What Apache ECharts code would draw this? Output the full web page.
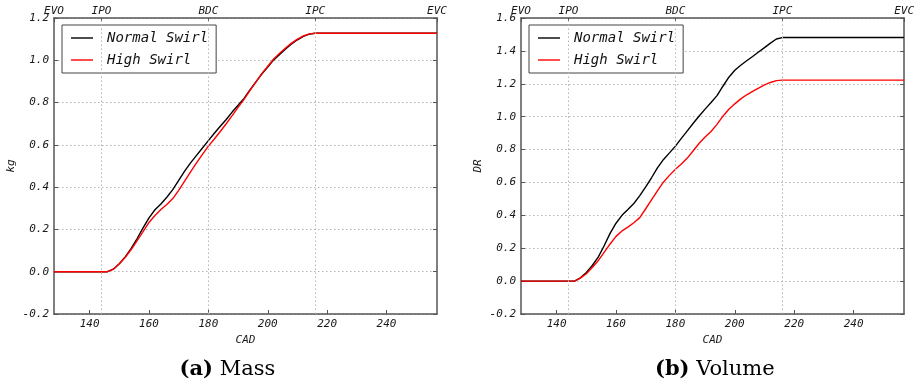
<!DOCTYPE html>
<html>
<head>
<meta charset="utf-8">
<script src="https://cdn.jsdelivr.net/npm/echarts@6/dist/echarts.min.js"></script>
<style>
html,body{margin:0;padding:0;background:#fff;}
#chart{width:917px;height:389px;}
</style>
</head>
<body>
<div id="chart"></div>
<script>
// ---- data ----
const cad = [128,146,148,150,152,154,156,158,160,162,164,166,168,170,172,174,176,178,180,182,184,186,188,190,192,194,196,198,200,202,204,206,208,210,212,214,216,257];
const massNormal = [0,0,0.012,0.038,0.070,0.110,0.157,0.207,0.255,0.293,0.320,0.352,0.388,0.432,0.476,0.515,0.550,0.585,0.620,0.655,0.688,0.720,0.755,0.787,0.820,0.860,0.898,0.935,0.968,1.002,1.028,1.053,1.077,1.097,1.113,1.124,1.128,1.128];
const massHigh   = [0,0,0.012,0.038,0.068,0.105,0.147,0.190,0.233,0.266,0.294,0.318,0.346,0.385,0.428,0.472,0.515,0.555,0.594,0.628,0.663,0.700,0.738,0.777,0.815,0.857,0.897,0.937,0.972,1.006,1.033,1.058,1.081,1.100,1.115,1.125,1.128,1.128];
const drNormal   = [0,0,0.020,0.053,0.095,0.146,0.215,0.290,0.352,0.400,0.435,0.472,0.520,0.573,0.630,0.690,0.740,0.780,0.821,0.868,0.914,0.960,1.004,1.046,1.086,1.128,1.185,1.240,1.282,1.313,1.340,1.366,1.393,1.420,1.447,1.472,1.481,1.481];
const drHigh     = [0,0,0.018,0.045,0.083,0.124,0.175,0.226,0.272,0.305,0.328,0.355,0.386,0.440,0.495,0.550,0.603,0.643,0.680,0.712,0.748,0.793,0.838,0.876,0.910,0.953,1.003,1.045,1.078,1.108,1.133,1.154,1.173,1.193,1.208,1.219,1.222,1.222];
const bottomTicks = [140,160,180,200,220,240];
const topTicks = [128,144,180,216,257];
const topLabels = ['EVO','IPO','BDC','IPC','EVC'];
const seriesNames = ['Normal Swirl','High Swirl'];
const yLabels = ['kg','DR'];
const captions = [['(a)','Mass'],['(b)','Volume']];

const pairs = (ys) => cad.map((x,i)=>[x, ys[i]]);
const mono = 'DejaVu Sans Mono';
const frameColor = '#555';
const tickFont = {fontFamily: mono, fontStyle: 'italic', fontSize: 11, color: '#1a1a1a'};

const grids = [
  {left: 54, width: 383, top: 18, height: 296},
  {left: 521, width: 384, top: 18, height: 296}
];
const yRanges = [[-0.2,1.2],[-0.2,1.6]];

const xAxes = [], yAxes = [];
grids.forEach((g, gi) => {
  xAxes.push({
    type: 'value', gridIndex: gi, position: 'bottom', min: 128, max: 257,
    name: 'CAD', nameLocation: 'middle', nameGap: 15,
    nameTextStyle: {fontFamily: mono, fontStyle: 'italic', fontSize: 11, color: '#1a1a1a'},
    axisLine: {show: true, onZero: false, lineStyle: {color: frameColor, width: 1.5}},
    axisTick: {show: true, inside: true, length: 4, customValues: bottomTicks, lineStyle: {color: frameColor}},
    axisLabel: Object.assign({customValues: bottomTicks, margin: 5}, tickFont),
    splitLine: {show: false}
  });
  xAxes.push({
    type: 'value', gridIndex: gi, position: 'top', min: 128, max: 257,
    axisLine: {show: true, onZero: false, lineStyle: {color: frameColor, width: 1.5}},
    axisTick: {show: true, inside: true, length: 4, customValues: topTicks, lineStyle: {color: frameColor}},
    axisLabel: Object.assign({customValues: topTicks, margin: 1, formatter: (v) => {
      const k = topTicks.indexOf(Math.round(v)); return k >= 0 ? topLabels[k] : '';
    }}, tickFont),
    splitLine: {show: false}
  });
  yAxes.push({
    type: 'value', gridIndex: gi, position: 'left', min: yRanges[gi][0], max: yRanges[gi][1], interval: 0.2,
    name: yLabels[gi], nameLocation: 'middle', nameGap: 37, nameRotate: 90,
    nameTextStyle: {fontFamily: mono, fontStyle: 'italic', fontSize: 11, color: '#1a1a1a'},
    axisLine: {show: true, onZero: false, lineStyle: {color: frameColor, width: 1.5}},
    axisTick: {show: true, inside: true, length: 4, lineStyle: {color: frameColor}},
    axisLabel: Object.assign({margin: 5, formatter: (v) => v.toFixed(1)}, tickFont),
    splitLine: {show: true, lineStyle: {color: '#b5b5b5', type: [1.5, 2.5], width: 1}}
  });
  yAxes.push({
    type: 'value', gridIndex: gi, position: 'right', min: yRanges[gi][0], max: yRanges[gi][1], interval: 0.2,
    axisLine: {show: true, onZero: false, lineStyle: {color: frameColor, width: 1.5}},
    axisTick: {show: true, inside: true, length: 4, lineStyle: {color: frameColor}},
    axisLabel: {show: false},
    splitLine: {show: false}
  });
});

const vGrid = {
  silent: true, symbol: 'none', label: {show: false},
  lineStyle: {color: '#b5b5b5', type: [1.5, 2.5], width: 1},
  data: topTicks.slice(1, -1).map(v => ({xAxis: v}))
};

const data = [[massNormal, massHigh],[drNormal, drHigh]];
const colors = ['#000000', '#ff0000'];
const series = [];
data.forEach((pair, gi) => {
  pair.forEach((ys, si) => {
    const s = {
      type: 'line', name: seriesNames[si], xAxisIndex: gi*2, yAxisIndex: gi*2,
      data: pairs(ys), symbol: 'none', smooth: false,
      lineStyle: {color: colors[si], width: 1.4}, itemStyle: {color: colors[si]},
      z: 3 + si
    };
    if (si === 0) s.markLine = vGrid;
    series.push(s);
  });
});

const lineIcon = 'path://M0,0 M22,14 M0,6.3 L22,6.3 L22,7.7 L0,7.7 Z';
const legends = grids.map((g, gi) => ({
  data: seriesNames.map(n => ({name: n, icon: lineIcon})),
  orient: 'vertical', left: g.left + 8, top: 25,
  itemWidth: 22, itemHeight: 14, itemGap: 8,
  padding: [6, 8, 6, 9],
  borderColor: '#444', borderWidth: 1, backgroundColor: '#fff',
  textStyle: {fontFamily: mono, fontStyle: 'italic', fontSize: 14, color: '#111', padding: [0,0,0,9]},
  selectedMode: false
}));

const graphic = grids.map((g, gi) => ({
  type: 'text', left: g.left + g.width/2 - (gi === 0 ? 66 : 58), top: 359,
  style: {
    text: '{b|' + captions[gi][0] + '} ' + captions[gi][1],
    rich: {b: {fontFamily: 'DejaVu Serif', fontWeight: 'bold', fontSize: 21, fill: '#000'}},
    fontFamily: 'DejaVu Serif', fontSize: 21, fill: '#000'
  }
}));

const chart = echarts.init(document.getElementById('chart'));
chart.setOption({
  animation: false,
  grid: grids,
  xAxis: xAxes,
  yAxis: yAxes,
  legend: legends,
  series: series,
  graphic: graphic
});
</script>
</body>
</html>
